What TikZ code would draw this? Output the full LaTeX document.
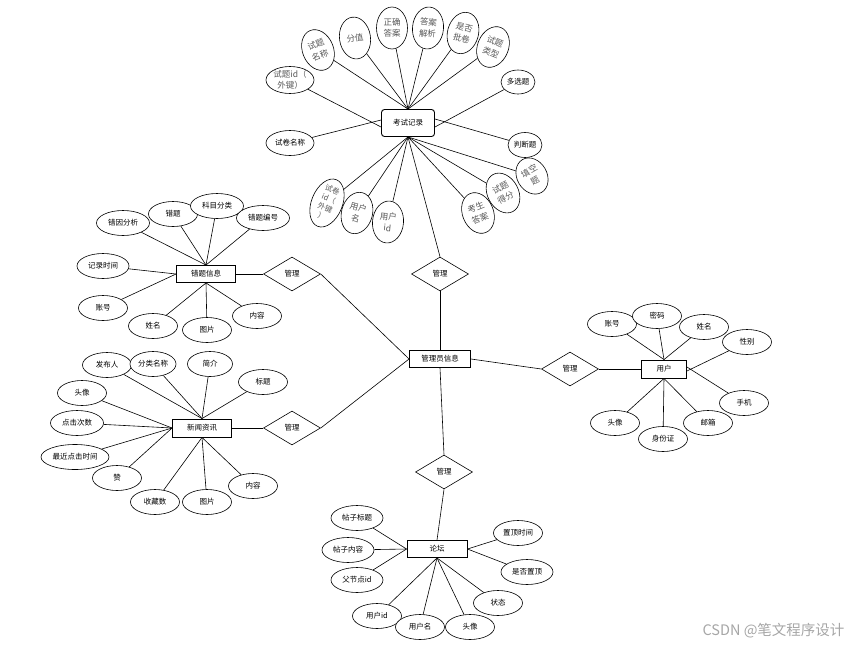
\documentclass[tikz,border=0pt]{standalone}
\usepackage{fontspec}
\newfontfamily\cjk{Noto Sans CJK SC}
\usetikzlibrary{shapes.geometric}

\begin{document}
\begin{tikzpicture}[x=1pt,y=-1pt,
  font=\cjk\fontsize{7.5}{9}\selectfont,
  ent/.style={draw,line width=0.9pt,minimum width=59pt,minimum height=17pt,inner sep=1pt},
  attr/.style={draw,ellipse,line width=0.6pt,minimum width=49pt,minimum height=25pt,inner sep=0pt,fill=white},
  qattr/.style={draw,ellipse,line width=0.6pt,minimum width=31pt,minimum height=42pt,inner sep=0pt,align=center,fill=white,
    text=black!65,font=\cjk\fontsize{8.5}{11.5}\selectfont},
  rel/.style={draw,diamond,aspect=1.7,line width=0.6pt,minimum width=57pt,minimum height=34pt,inner sep=0pt},
  lnk/.style={line width=0.6pt}]
\useasboundingbox (0,0) rectangle (852,646);
% ---------- centre: admin ----------
\node[ent,minimum width=61pt] (gly) at (440,359) {管理员信息};
\node[rel] (r1) at (440,274) {管理};
\node[rel] (r2) at (292,274) {管理};
\node[rel] (r3) at (292,428) {管理};
\node[rel] (r4) at (570,369) {管理};
\node[rel] (r5) at (444,472) {管理};
\draw[lnk] (gly.north) -- (r1.south);
\draw[lnk] (gly.west) -- (r2.east);
\draw[lnk] (gly.west) -- (r3.east);
\draw[lnk] (gly.east) -- (r4.west);
\draw[lnk] (gly.south) -- (r5.north);
% ---------- exam record ----------
\node[ent,rounded corners=3pt,minimum width=53pt,minimum height=27pt] (ks) at (408,123) {考试记录};
\node[qattr,rotate=22] (stmc) at (318,50) {试题\\名称};
\node[qattr,rotate=8] (fz) at (355,38) {分值};
\node[qattr] (zqda) at (392,28) {正确\\答案};
\node[qattr,rotate=-5] (dajx) at (428,28) {答案\\解析};
\node[qattr,rotate=-15] (sfpj) at (463,33) {是否\\批卷};
\node[qattr,rotate=-22] (stlx) at (493,47) {试题\\类型};
\node[qattr,minimum width=48pt,minimum height=27pt,font=\cjk\fontsize{8.5}{10.5}\selectfont] (stid) at (290,80) {试题id（\\外键）};
\node[attr,minimum width=48pt] (sjmc) at (290,143) {试卷名称};
\node[attr,minimum width=34pt,minimum height=24pt] (dxt) at (518,82) {多选题};
\node[attr,minimum width=34pt,minimum height=25pt] (pdt) at (525,145) {判断题};
\node[qattr,rotate=-22,minimum height=46pt,font=\cjk\fontsize{7.5}{9.5}\selectfont] (sjid) at (327,203) {试卷\\id（\\外键\\）};
\node[qattr,rotate=-15] (yhm1) at (357,213) {用户\\名};
\node[qattr,rotate=-5] (yhid1) at (388,222) {用户\\id};
\node[qattr,rotate=22] (ksda) at (478,213) {考生\\答案};
\node[qattr,rotate=28] (stdf) at (503,193) {试题\\得分};
\node[qattr,rotate=30,minimum width=30pt,minimum height=38pt] (tkt) at (532,176) {填空\\题};
\foreach \a in {stmc,fz,zqda,dajx,sfpj,stlx}
  \draw[lnk] (\a) -- (ks.north);
\foreach \a in {sjid,yhm1,yhid1,ksda,stdf,tkt}
  \draw[lnk] (\a) -- (ks.south);
\draw[lnk] (stid) -- ([yshift=-4]ks.west);
\draw[lnk] (sjmc) -- ([yshift=3]ks.west);
\draw[lnk] (dxt) -- ([yshift=-4]ks.east);
\draw[lnk] (pdt) -- ([yshift=4]ks.east);
\draw[lnk] (ks.south) -- (r1.north);
% ---------- wrong questions ----------
\node[ent] (ctxx) at (206,274) {错题信息};
\node[attr,minimum width=53pt] (cyfx) at (123,223) {错因分析};
\node[attr] (ct) at (173,214) {错题};
\node[attr,minimum width=53pt] (kmfl) at (217,206) {科目分类};
\node[attr,minimum width=53pt] (ctbh) at (263,218) {错题编号};
\node[attr,minimum width=52pt] (jlsj) at (103,266) {记录时间};
\node[attr] (zh1) at (103,308) {账号};
\node[attr] (xm1) at (153,326) {姓名};
\node[attr] (tp1) at (207,330) {图片};
\node[attr] (nr1) at (257,316) {内容};
\foreach \a in {cyfx,ct,kmfl,ctbh}
  \draw[lnk] (\a) -- (ctxx.north);
\foreach \a in {jlsj,zh1}
  \draw[lnk] (\a) -- (ctxx.west);
\foreach \a in {xm1,tp1,nr1}
  \draw[lnk] (\a) -- (ctxx.south);
\draw[lnk] (ctxx.east) -- (r2.west);
% ---------- news ----------
\node[ent,minimum height=18pt] (xwzx) at (202,428) {新闻资讯};
\node[attr] (fbr) at (107,365) {发布人};
\node[attr,minimum width=46pt] (flmc) at (153,364) {分类名称};
\node[attr,minimum width=45pt] (jj) at (210,364) {简介};
\node[attr] (bt) at (263,382) {标题};
\node[attr] (tx1) at (82,393) {头像};
\node[attr,minimum width=53pt] (djcs) at (77,423) {点击次数};
\node[attr,minimum width=68pt] (zjdj) at (75,457) {最近点击时间};
\node[attr] (zan) at (117,478) {赞};
\node[attr] (scs) at (155,502) {收藏数};
\node[attr] (tp2) at (207,502) {图片};
\node[attr] (nr2) at (253,486) {内容};
\foreach \a in {fbr,flmc,jj,bt}
  \draw[lnk] (\a) -- (xwzx.north);
\foreach \a in {tx1,djcs,zjdj,zan}
  \draw[lnk] (\a) -- (xwzx.west);
\foreach \a in {scs,tp2,nr2}
  \draw[lnk] (\a) -- (xwzx.south);
\draw[lnk] (xwzx.east) -- (r3.west);
% ---------- user ----------
\node[ent,minimum width=45pt,minimum height=18pt] (yh) at (664,369) {用户};
\node[attr] (zh2) at (612,324) {账号};
\node[attr] (mm) at (657,316) {密码};
\node[attr] (xm2) at (704,327) {姓名};
\node[attr] (xb) at (747,342) {性别};
\node[attr] (sj) at (744,403) {手机};
\node[attr] (yx) at (708,423) {邮箱};
\node[attr] (sfz) at (663,439) {身份证};
\node[attr] (tx2) at (615,423) {头像};
\foreach \a in {zh2,mm,xm2}
  \draw[lnk] (\a) -- (yh.north);
\draw[lnk] (xb) -- ([yshift=-2]yh.east);
\draw[lnk] (sj) -- ([yshift=2]yh.east);
\foreach \a in {yx,sfz,tx2}
  \draw[lnk] (\a) -- (yh.south);
\draw[lnk] (r4.east) -- (yh.west);
% ---------- forum ----------
\node[ent,minimum width=60pt] (lt) at (437,549) {论坛};
\node[attr,minimum width=52pt] (tzbt) at (357,518) {帖子标题};
\node[attr,minimum width=52pt] (tznr) at (348,550) {帖子内容};
\node[attr,minimum width=52pt] (fjd) at (357,580) {父节点id};
\node[attr] (yhid2) at (377,616) {用户id};
\node[attr] (yhm2) at (420,627) {用户名};
\node[attr] (tx3) at (470,627) {头像};
\node[attr] (zt) at (498,603) {状态};
\node[attr,minimum width=52pt] (sfzd) at (527,572) {是否置顶};
\node[attr] (zdsj) at (518,533) {置顶时间};
\foreach \a in {tzbt,tznr,fjd}
  \draw[lnk] (\a) -- (lt.west);
\foreach \a in {yhid2,yhm2,tx3,zt}
  \draw[lnk] (\a) -- (lt.south);
\foreach \a in {zdsj,sfzd}
  \draw[lnk] (\a) -- (lt.east);
\draw[lnk] (r5.south) -- (lt.north);
% watermark
\node[text=black!35,font=\cjk\fontsize{14.5}{16}\selectfont,anchor=east] (wm) at (848,631) {CSDN @笔文程序设计};
\end{tikzpicture}
\end{document}
